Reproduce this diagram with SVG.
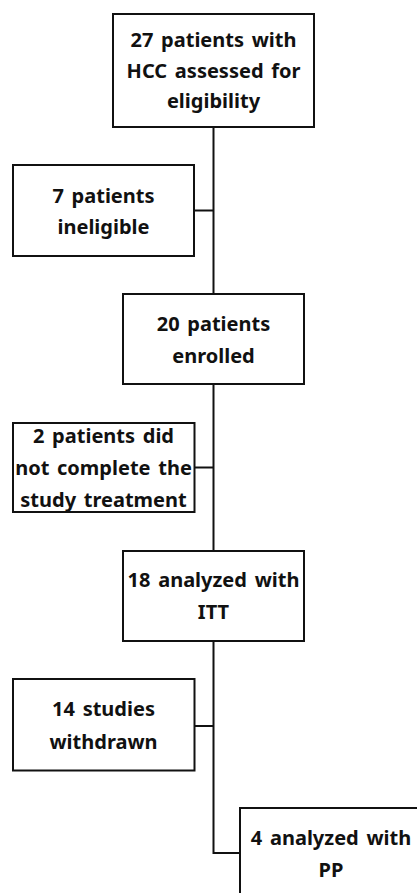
<svg xmlns="http://www.w3.org/2000/svg" width="417" height="893" viewBox="0 0 417 893">
<style>
.box{fill:#fff;stroke:#111;stroke-width:2}
.lbl{font-family:"Noto Sans","Open Sans","DejaVu Sans",sans-serif;font-weight:bold;font-size:20px;word-spacing:2.5px;fill:#111;text-anchor:middle}
.con{fill:none;stroke:#111;stroke-width:2}
</style>
<rect width="417" height="893" fill="#fff"/>
<g id="connectors">
<path class="con" d="M213.5 127V294"/>
<path class="con" d="M194 210.5H213.5"/>
<path class="con" d="M213.5 384V551"/>
<path class="con" d="M194.5 467.5H213.5"/>
<path class="con" d="M213.5 641V853H240"/>
<path class="con" d="M194.5 726H213.5"/>
</g>
<g id="n1"><rect class="box" x="113" y="14" width="201" height="113"/>
<text class="lbl" x="213.5" y="47">27 patients with</text>
<text class="lbl" x="213.5" y="77.5">HCC assessed for</text>
<text class="lbl" x="213.5" y="108">eligibility</text></g>
<g id="n2"><rect class="box" x="13" y="165" width="181" height="91"/>
<text class="lbl" x="103.5" y="203">7 patients</text>
<text class="lbl" x="103.5" y="234">ineligible</text></g>
<g id="n3"><rect class="box" x="123" y="294" width="181" height="90"/>
<text class="lbl" x="213.5" y="331">20 patients</text>
<text class="lbl" x="213.5" y="362.5">enrolled</text></g>
<g id="n4"><rect class="box" x="13" y="423" width="181.5" height="89"/>
<text class="lbl" x="103.5" y="443">2 patients did</text>
<text class="lbl" x="103.5" y="475">not complete the</text>
<text class="lbl" x="103.5" y="507">study treatment</text></g>
<g id="n5"><rect class="box" x="123" y="551" width="181" height="90"/>
<text class="lbl" x="213.5" y="587">18 analyzed with</text>
<text class="lbl" x="213.5" y="619">ITT</text></g>
<g id="n6"><rect class="box" x="13" y="679" width="181.5" height="91.5"/>
<text class="lbl" x="103.5" y="716">14 studies</text>
<text class="lbl" x="103.5" y="748.5">withdrawn</text></g>
<g id="n7"><rect class="box" x="240" y="808" width="182" height="92"/>
<text class="lbl" x="331" y="845">4 analyzed with</text>
<text class="lbl" x="331" y="877">PP</text></g>
</svg>
